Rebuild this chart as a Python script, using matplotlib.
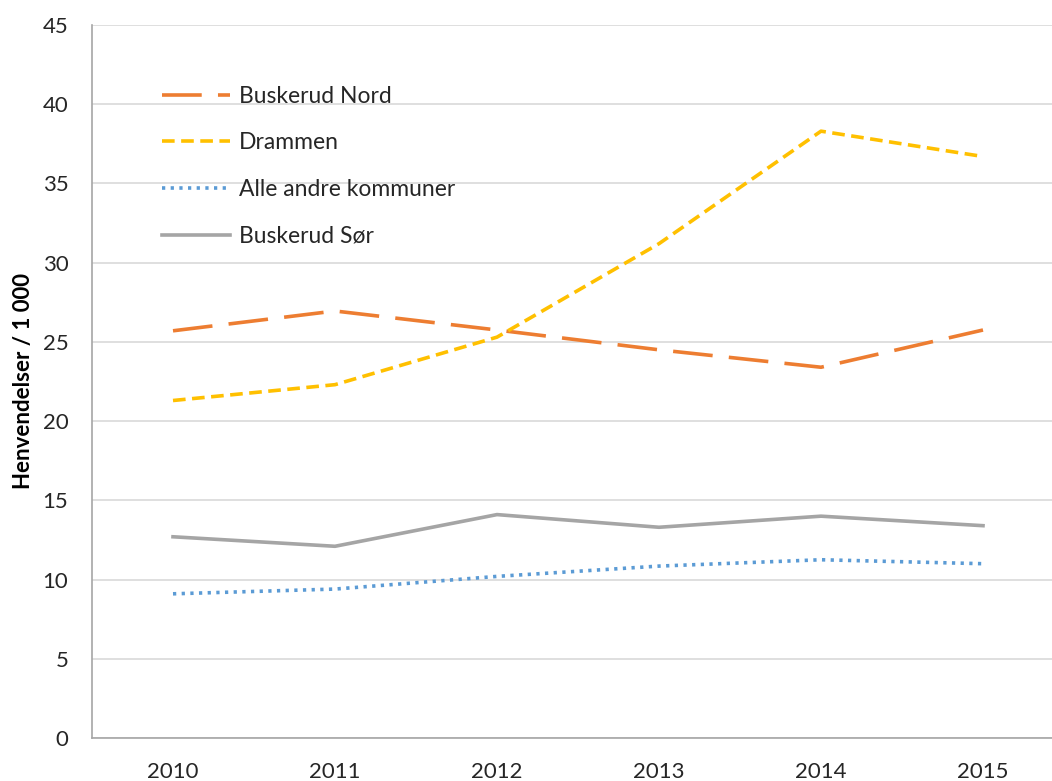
import matplotlib
matplotlib.use("Agg")
import matplotlib.pyplot as plt

years = ["2010", "2011", "2012", "2013", "2014", "2015"]
buskerud_nord = [25.7, 26.95, 25.75, 24.5, 23.4, 25.75]
drammen = [21.3, 22.3, 25.3, 31.2, 38.3, 36.7]
alle_andre = [9.1, 9.4, 10.2, 10.85, 11.25, 11.0]
buskerud_sor = [12.7, 12.1, 14.1, 13.3, 14.0, 13.4]

plt.rcParams['font.family'] = ['Lato', 'DejaVu Sans']

W, H = 1052, 781
fig = plt.figure(figsize=(W / 100, H / 100), dpi=100)
left, right, top, bottom = 92, 1064, 25, 738
ax = fig.add_axes([left / W, 1 - bottom / H, (right - left) / W, (bottom - top) / H])

x = list(range(len(years)))
lw = 2.6
ax.plot(x, buskerud_nord, color="#ED7D31", lw=lw, dashes=(11, 4.5), label="Buskerud Nord")
ax.plot(x, drammen, color="#FFC000", lw=lw, dashes=(3.5, 1.8), label="Drammen")
ax.plot(x, alle_andre, color="#5B9BD5", lw=lw, dashes=(0.9, 1.5), label="Alle andre kommuner")
ax.plot(x, buskerud_sor, color="#A5A5A5", lw=lw, label="Buskerud Sør")

ax.set_xlim(-0.5, len(years) - 0.5)
ax.set_ylim(0, 45)
ax.set_yticks(range(0, 46, 5))
ax.set_xticks(x)
ax.set_xticklabels(years)
ax.yaxis.grid(True, color="#D9D9D9", lw=1.2)
ax.set_axisbelow(True)
for s in ["top", "right"]:
    ax.spines[s].set_visible(False)
for s in ["left", "bottom"]:
    ax.spines[s].set_color("#A6A6A6")
    ax.spines[s].set_linewidth(1.2)
ax.tick_params(axis="both", length=0, labelsize=16, colors="#262626")
ax.tick_params(axis="x", pad=17)
ax.tick_params(axis="y", pad=17)

fig.text(24 / W, 1 - 381 / H, "Henvendelser / 1 000", rotation=90, fontsize=16,
         fontweight="bold", va="center", ha="center", color="black")

leg = ax.legend(loc="upper left", bbox_to_anchor=(0.051, 0.944), frameon=False,
                fontsize=16.5, handlelength=2.95, labelspacing=1.12, handletextpad=0.4)
for t in leg.get_texts():
    t.set_color("#262626")

fig.savefig("out.png", dpi=100, facecolor="white")
